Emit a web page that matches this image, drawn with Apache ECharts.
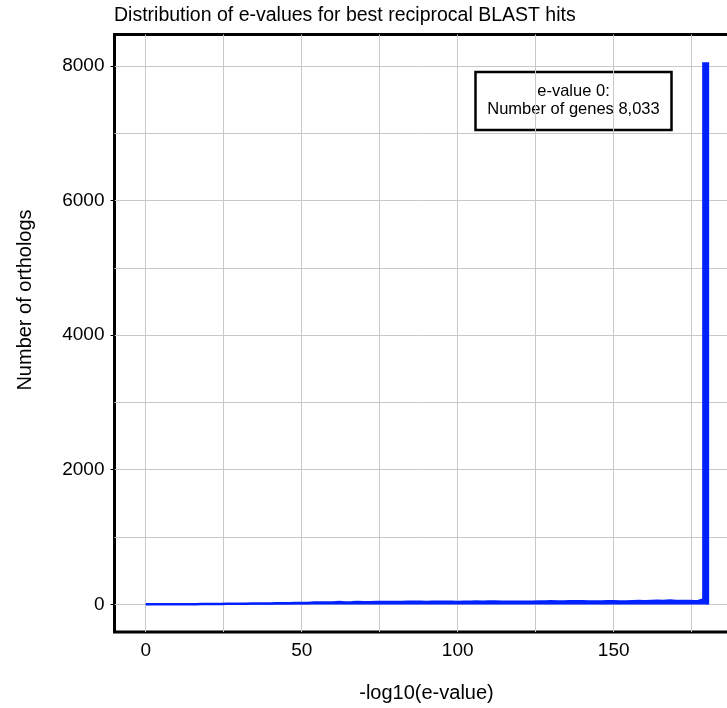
<!DOCTYPE html>
<html>
<head>
<meta charset="utf-8">
<script src="https://cdn.jsdelivr.net/npm/echarts@6/dist/echarts.min.js"></script>
<style>
  html, body { margin: 0; padding: 0; background: #fff; }
  #chart { width: 727px; height: 708px; }
</style>
</head>
<body>
<div id="chart"></div>
<script>
// Histogram of -log10(e-value) for best reciprocal BLAST hits, 2-unit bins from 0 to 176
const BIN_WIDTH = 2;
const binCounts = [
  1, 1, 2, 2, 3,
  3, 4, 4, 5, 6,
  6, 7, 8, 9, 10,
  11, 12, 13, 14, 15,
  16, 17, 18, 19, 20,
  22, 27, 28, 29, 30,
  34, 30, 31, 36, 33,
  33, 34, 35, 36, 35,
  37, 38, 38, 40, 37,
  38, 40, 39, 38, 36,
  38, 40, 42, 40, 44,
  43, 40, 39, 40, 38,
  40, 41, 42, 44, 46,
  42, 44, 45, 47, 48,
  44, 42, 42, 46, 45,
  44, 43, 47, 49, 48,
  51, 53, 52, 58, 52,
  50, 49, 48, 50
];
// Highest bins: the last partial bin and the e-value 0 spike
const tailX = [177.2, 178.75, 180.2];
const tailCounts = [75, 8033, 0];
const zeroEvalueGenes = 8033;

// Axis ticks and labels
const xLabelValues = [0, 50, 100, 150];
const xGridValues = [0, 25, 50, 75, 100, 125, 150, 175];
const yLabelValues = [0, 2000, 4000, 6000, 8000];
const yGridValues = [0, 1000, 2000, 3000, 4000, 5000, 6000, 7000, 8000];

const points = binCounts.map((c, i) => [i * BIN_WIDTH, c]);
tailX.forEach((x, i) => points.push([x, tailCounts[i]]));

const FONT = '"Liberation Sans", Arial, sans-serif';
const BLUE = '#0022ff';
const GRID_GRAY = '#c8c8c8';
const plainNumber = v => String(v);

const chart = echarts.init(document.getElementById('chart'), null, { renderer: 'canvas' });

chart.setOption({
  backgroundColor: '#fff',
  animation: false,
  title: {
    text: 'Distribution of e-values for best reciprocal BLAST hits',
    left: 114,
    top: 6,
    padding: 0,
    textStyle: { fontFamily: FONT, fontSize: 19.5, fontWeight: 'normal', color: '#000' }
  },
  grid: {
    left: 114.5,
    top: 34.5,
    width: 624,
    height: 597.5,
    outerBoundsMode: 'none',
    containLabel: false,
    show: true,
    borderColor: '#000',
    borderWidth: 3,
    backgroundColor: '#fff'
  },
  xAxis: {
    type: 'value',
    min: -10,
    max: 190,
    name: '-log10(e-value)',
    nameLocation: 'middle',
    nameGap: 51,
    nameTextStyle: { fontFamily: FONT, fontSize: 20, color: '#000' },
    axisLine: { show: false, onZero: false },
    axisTick: { show: false, customValues: xGridValues },
    axisLabel: {
      customValues: xLabelValues,
      formatter: plainNumber,
      margin: 9,
      fontFamily: FONT,
      fontSize: 19,
      color: '#000'
    },
    splitLine: { show: true, lineStyle: { color: GRID_GRAY, width: 1 } }
  },
  yAxis: [
    {
      type: 'value',
      min: -410,
      max: 8465,
      position: 'left',
      axisLine: { show: false, onZero: false },
      axisTick: {
        show: true,
        customValues: yLabelValues,
        length: 4,
        lineStyle: { color: '#000', width: 1 }
      },
      axisLabel: {
        customValues: yLabelValues,
        formatter: plainNumber,
        margin: 10,
        fontFamily: FONT,
        fontSize: 19,
        color: '#000'
      },
      splitLine: { show: false }
    },
    {
      type: 'value',
      min: -410,
      max: 8465,
      position: 'left',
      axisLine: { show: false, onZero: false },
      axisTick: { show: false, customValues: yGridValues },
      axisLabel: { show: false },
      splitLine: { show: true, lineStyle: { color: GRID_GRAY, width: 1 } }
    }
  ],
  series: [
    {
      type: 'line',
      yAxisIndex: 0,
      step: 'end',
      data: points,
      showSymbol: false,
      symbol: 'none',
      lineStyle: { color: BLUE, width: 2.5, join: 'miter' },
      areaStyle: { color: BLUE, opacity: 1 },
      z: 3
    }
  ],
  graphic: [
    {
      type: 'text',
      x: 25,
      y: 300,
      rotation: Math.PI / 2,
      style: {
        text: 'Number of orthologs',
        fontFamily: FONT,
        fontSize: 20,
        fill: '#000',
        align: 'center',
        verticalAlign: 'middle'
      }
    },
    {
      type: 'group',
      z: 100,
      children: [
        {
          type: 'rect',
          shape: { x: 475.5, y: 72, width: 196, height: 58 },
          style: { fill: '#fff', stroke: '#000', lineWidth: 2.5 }
        },
        {
          type: 'text',
          x: 573.5,
          y: 100.5,
          style: {
            text: 'e-value 0:\nNumber of genes ' + zeroEvalueGenes.toLocaleString('en-US'),
            fontFamily: FONT,
            fontSize: 16.5,
            lineHeight: 18,
            fill: '#000',
            align: 'center',
            verticalAlign: 'middle'
          }
        }
      ]
    }
  ]
});
</script>
</body>
</html>
